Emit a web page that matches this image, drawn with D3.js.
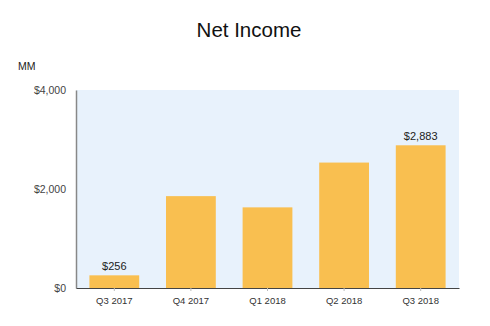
<!DOCTYPE html>
<html><head><meta charset="utf-8">
<script src="https://cdn.jsdelivr.net/npm/d3@7"></script>
<style>body{margin:0;background:#fff}svg{display:block}</style>
</head><body><svg id="c" width="490" height="326"></svg>
<script>
const categories = ["Q3 2017","Q4 2017","Q1 2018","Q2 2018","Q3 2018"];
const values = [256, 1856, 1629, 2534, 2883];
const labelled = ["$256", null, null, null, "$2,883"];
const yTicks = [0, 2000, 4000];
const yTickLabels = ["$0", "$2,000", "$4,000"];

const data = categories.map((c, i) => ({c, v: values[i], lab: labelled[i]}));

const svg = d3.select("#c");
const L = 76, R = 459, T = 90, B = 288;
const x = d3.scaleBand().domain(categories).range([L, R]).paddingInner(0.35).paddingOuter(0.175);
const y = d3.scaleLinear().domain([0, 4000]).range([B, T]);
const font = "Liberation Sans, Arial, sans-serif";

svg.append("rect").attr("x", L).attr("y", T).attr("width", R - L).attr("height", B - T).attr("fill", "#e8f2fc");

svg.append("text").attr("x", 249).attr("y", 37).attr("text-anchor", "middle")
  .attr("font-family", font).attr("font-size", 20.5).attr("fill", "#111").text("Net Income");
svg.append("text").attr("x", 18).attr("y", 70).attr("font-family", font).attr("font-size", 10.5).attr("fill", "#222").text("MM");

svg.selectAll("rect.bar").data(data).join("rect").attr("class", "bar")
  .attr("x", d => x(d.c)).attr("width", x.bandwidth())
  .attr("y", d => y(d.v)).attr("height", d => B - y(d.v)).attr("fill", "#f9bf50");

svg.selectAll("text.val").data(data.filter(d => d.lab)).join("text").attr("class", "val")
  .attr("x", d => x(d.c) + x.bandwidth() / 2).attr("y", d => y(d.v) - 5)
  .attr("text-anchor", "middle").attr("font-family", font).attr("font-size", 11).attr("fill", "#222")
  .text(d => d.lab);

const yAxis = svg.append("g").attr("transform", `translate(${L},0)`)
  .call(d3.axisLeft(y).tickValues(yTicks).tickFormat((d, i) => yTickLabels[i]).tickSize(0).tickPadding(10));
yAxis.select(".domain").attr("stroke", "#888").attr("stroke-width", 1.5);
yAxis.selectAll("text").attr("font-family", font).attr("font-size", 10.5).attr("fill", "#444");

const xAxis = svg.append("g").attr("transform", `translate(0,${B})`)
  .call(d3.axisBottom(x).tickSize(3).tickPadding(6).tickSizeOuter(0));
xAxis.select(".domain").attr("stroke", "#444").attr("stroke-width", 1.2);
xAxis.selectAll(".tick line").attr("stroke", "#bbb");
xAxis.selectAll("text").attr("font-family", font).attr("font-size", 9.5).attr("fill", "#333");
</script></body></html>
